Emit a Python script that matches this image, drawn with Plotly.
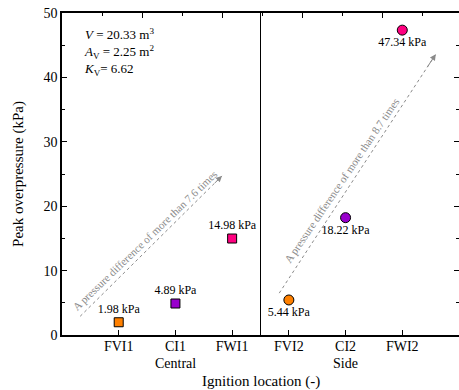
import plotly.graph_objects as go

categories = ["FVI1", "CI1", "FWI1", "FVI2", "CI2", "FWI2"]
cat_pos = [1, 2, 3, 4, 5, 6]
central_values = [1.98, 4.89, 14.98]
side_values = [5.44, 18.22, 47.34]
colors = ["#FF8000", "#9900CC", "#FF0080"]
central_labels = ["1.98 kPa", "4.89 kPa", "14.98 kPa"]
side_labels = ["5.44 kPa", "18.22 kPa", "47.34 kPa"]

# dotted trend arrows (data coordinates)
arrow1_x = [0.32, 2.82]
arrow1_y = [2.9, 24.7]
arrow2_x = [3.83, 6.59]
arrow2_y = [6.5, 43.6]
arrow_text1 = "A pressure difference of more than 7.6 times"
arrow_text2 = "A pressure difference of more than 8.7 times"

FONT = "Liberation Serif"
GRAY = "#8a8a8a"

fig = go.Figure()

fig.add_trace(go.Scatter(
    x=cat_pos[:3], y=central_values, mode="markers+text",
    marker=dict(symbol="square", size=9, color=colors,
                line=dict(color="black", width=1)),
    text=central_labels, textposition="top center",
    textfont=dict(family=FONT, size=12, color="black"),
    showlegend=False, cliponaxis=False))

fig.add_trace(go.Scatter(
    x=cat_pos[3:], y=side_values, mode="markers+text",
    marker=dict(symbol="circle", size=10, color=colors,
                line=dict(color="black", width=1)),
    text=side_labels, textposition="bottom center",
    textfont=dict(family=FONT, size=12, color="black"),
    showlegend=False, cliponaxis=False))

for ax_, ay_ in [(arrow1_x, arrow1_y), (arrow2_x, arrow2_y)]:
    fig.add_trace(go.Scatter(x=ax_, y=ay_, mode="lines",
                             line=dict(color=GRAY, width=1, dash="dot"),
                             showlegend=False, hoverinfo="skip"))
    fig.add_annotation(x=ax_[1], y=ay_[1], ax=ax_[0] + (ax_[1] - ax_[0]) * 0.94,
                       ay=ay_[0] + (ay_[1] - ay_[0]) * 0.94,
                       xref="x", yref="y", axref="x", ayref="y",
                       showarrow=True, arrowhead=2, arrowsize=1.2, arrowwidth=1,
                       arrowcolor=GRAY, text="")

fig.add_annotation(x=1.47, y=14.7, xref="x", yref="y", text=arrow_text1,
                   textangle=-44, showarrow=False,
                   font=dict(family=FONT, size=11, color=GRAY))
fig.add_annotation(x=4.94, y=24.0, xref="x", yref="y", text=arrow_text2,
                   textangle=-56, showarrow=False,
                   font=dict(family=FONT, size=11, color=GRAY))

# parameters box
fig.add_annotation(x=0.05, y=0.965, xref="paper", yref="paper",
                   xanchor="left", yanchor="top", align="left", showarrow=False,
                   text="<i>V</i> = 20.33 m<sup>3</sup><br><i>A</i><sub>V</sub> = 2.25 m<sup>2</sup><br><i>K</i><sub>V</sub>= 6.62",
                   font=dict(family=FONT, size=13, color="black"))

# group labels
fig.add_annotation(x=2, y=-0.06, xref="x", yref="paper", text="Central",
                   showarrow=False, yanchor="top",
                   font=dict(family=FONT, size=14, color="black"))
fig.add_annotation(x=5, y=-0.06, xref="x", yref="paper", text="Side",
                   showarrow=False, yanchor="top",
                   font=dict(family=FONT, size=14, color="black"))
# x-axis title
fig.add_annotation(x=0.5, y=-0.113, xref="paper", yref="paper",
                   text="Ignition location (-)", showarrow=False,
                   yanchor="top", font=dict(family=FONT, size=15, color="black"))

# divider
fig.add_shape(type="line", x0=3.5, x1=3.5, y0=0, y1=1, xref="x", yref="paper",
              line=dict(color="black", width=1))

fig.update_layout(
    width=459, height=390,
    margin=dict(l=62, r=0, t=13, b=55),
    paper_bgcolor="white", plot_bgcolor="white",
    font=dict(family=FONT, size=14, color="black"),
    xaxis=dict(range=[0, 7], tickvals=cat_pos, ticktext=categories,
               showline=True, linecolor="black", linewidth=1.5,
               ticks="inside", ticklen=5, tickcolor="black",
               showgrid=False, zeroline=False, automargin=False,
               ticklabelstandoff=-3,
               tickfont=dict(family=FONT, size=14)),
    xaxis2=dict(overlaying="x", side="top", range=[0, 397],
                tickmode="linear", tick0=0, dtick=80,
                showticklabels=False, showline=True, linecolor="black",
                linewidth=1.5, ticks="inside", ticklen=5, tickcolor="black",
                minor=dict(ticks="inside", ticklen=3, tickcolor="black",
                           dtick=80, tick0=40),
                showgrid=False, zeroline=False, automargin=False),
    yaxis=dict(range=[0, 50], dtick=10, showline=True, linecolor="black",
               linewidth=1.5, mirror="ticks", ticks="inside", ticklen=5,
               tickcolor="black", automargin=False,
               minor=dict(ticks="inside", ticklen=3, tickcolor="black", dtick=5),
               showgrid=False, zeroline=False,
               tickfont=dict(family=FONT, size=14),
               title=dict(text="Peak overpressure (kPa)", standoff=16,
                          font=dict(family=FONT, size=15))),
)

fig.add_trace(go.Scatter(x=[0], y=[None], xaxis="x2", showlegend=False,
                         hoverinfo="skip"))

fig.write_html("out.html")
